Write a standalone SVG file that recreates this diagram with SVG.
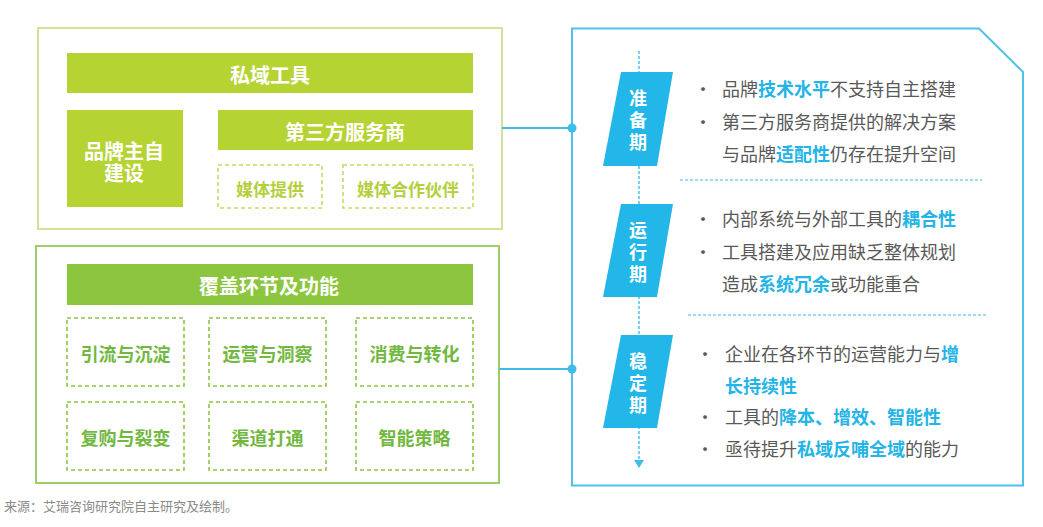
<svg xmlns="http://www.w3.org/2000/svg" width="1043" height="527" viewBox="0 0 1043 527">
<style>
.t{font-family:"Noto Sans CJK SC","Noto Sans",sans-serif;dominant-baseline:central}
.bar{fill:#b6d334}
.bar2{fill:#8cc63f}
.wt{fill:#fff;font-weight:bold;text-anchor:middle}
.dashY{fill:none;stroke:#c3da62;stroke-width:1.6;stroke-dasharray:4 3}
.dashG{fill:none;stroke:#8cc63f;stroke-width:1.6;stroke-dasharray:4 3}
.yt{fill:#b4cf3c;font-weight:bold;text-anchor:middle;font-size:17px}
.gt{fill:#72b840;font-weight:bold;text-anchor:middle;font-size:18px}
.para{fill:#22b7e8}
.pt{fill:#fff;font-weight:bold;text-anchor:middle;font-size:18px;writing-mode:vertical-rl;letter-spacing:4px}
.body{fill:#595959;font-size:18px}
.hl{fill:#25b4e6;font-weight:bold}
.bul{fill:#595959;font-size:18px;text-anchor:middle}
.sep{stroke:#7fd0ee;stroke-width:1.5;stroke-dasharray:3 2;fill:none}
.conn{stroke:#3fbde8;stroke-width:2;fill:none}
</style>
<rect width="1043" height="527" fill="#fff"/>

<g id="tools-panel">
  <rect x="38" y="28" width="464" height="201" fill="none" stroke="#d2e398" stroke-width="2"/>
  <g id="siyu-tools">
    <rect class="bar" x="67" y="53" width="406" height="40"/>
    <text class="t wt" x="270" y="74" font-size="20">私域工具</text>
  </g>
  <g id="brand-self">
    <rect class="bar" x="67" y="110" width="116" height="97"/>
    <text class="t wt" font-size="20"><tspan x="124" y="150">品牌主自</tspan><tspan x="124" y="172">建设</tspan></text>
  </g>
  <g id="third-party">
    <rect class="bar" x="218" y="110" width="255" height="40"/>
    <text class="t wt" x="345" y="131" font-size="20">第三方服务商</text>
  </g>
  <g id="media-provide">
    <rect class="dashY" x="218" y="165" width="104" height="43"/>
    <text class="t yt" x="270" y="188">媒体提供</text>
  </g>
  <g id="media-partner">
    <rect class="dashY" x="343" y="165" width="130" height="43"/>
    <text class="t yt" x="408" y="188">媒体合作伙伴</text>
  </g>
</g>

<g id="coverage-panel">
  <rect x="36" y="246" width="463" height="237" fill="none" stroke="#9fcf62" stroke-width="2"/>
  <g id="coverage-title">
    <rect class="bar2" x="67" y="264" width="406" height="41"/>
    <text class="t wt" x="269" y="285" font-size="20">覆盖环节及功能</text>
  </g>
  <g id="c1"><rect class="dashG" x="67" y="318" width="117" height="68"/><text class="t gt" x="125.5" y="353">引流与沉淀</text></g>
  <g id="c2"><rect class="dashG" x="209" y="318" width="117" height="68"/><text class="t gt" x="267.5" y="353">运营与洞察</text></g>
  <g id="c3"><rect class="dashG" x="356" y="318" width="117" height="68"/><text class="t gt" x="414.5" y="353">消费与转化</text></g>
  <g id="c4"><rect class="dashG" x="67" y="402" width="117" height="68"/><text class="t gt" x="125.5" y="437">复购与裂变</text></g>
  <g id="c5"><rect class="dashG" x="209" y="402" width="117" height="68"/><text class="t gt" x="267.5" y="437">渠道打通</text></g>
  <g id="c6"><rect class="dashG" x="356" y="402" width="117" height="68"/><text class="t gt" x="414.5" y="437">智能策略</text></g>
</g>

<g id="stages-panel">
  <path d="M572 28.5 H979 L1023 72 V485.5 H572 Z" fill="none" stroke="#4cc2ea" stroke-width="2"/>
  <line x1="639" y1="51" x2="639" y2="461" stroke="#4cc2ea" stroke-width="1.5" stroke-dasharray="3 2"/>
  <polygon points="634,460 644,460 639,468" fill="#3fbde8"/>
  <line class="sep" x1="680" y1="180" x2="982" y2="180"/>
  <line class="sep" x1="688" y1="315" x2="987" y2="315"/>

  <g id="stage-prepare">
    <polygon class="para" points="621,72 673,72 657,166 603,166"/>
    <text class="t pt" x="638" y="122">准备期</text>
    <text class="t bul" x="703" y="88">•</text>
    <text class="t body" x="722" y="88">品牌<tspan class="hl">技术水平</tspan>不支持自主搭建</text>
    <text class="t bul" x="703" y="121">•</text>
    <text class="t body" x="722" y="121">第三方服务商提供的解决方案</text>
    <text class="t body" x="722" y="153">与品牌<tspan class="hl">适配性</tspan>仍存在提升空间</text>
  </g>

  <g id="stage-run">
    <polygon class="para" points="621,204 673,204 657,297 603,297"/>
    <text class="t pt" x="638" y="254">运行期</text>
    <text class="t bul" x="703" y="218">•</text>
    <text class="t body" x="722" y="218">内部系统与外部工具的<tspan class="hl">耦合性</tspan></text>
    <text class="t bul" x="703" y="251">•</text>
    <text class="t body" x="722" y="251">工具搭建及应用缺乏整体规划</text>
    <text class="t body" x="722" y="283">造成<tspan class="hl">系统冗余</tspan>或功能重合</text>
  </g>

  <g id="stage-stable">
    <polygon class="para" points="621,335 673,335 657,428 603,428"/>
    <text class="t pt" x="638" y="385">稳定期</text>
    <text class="t bul" x="705" y="353">•</text>
    <text class="t body" x="725" y="353">企业在各环节的运营能力与<tspan class="hl">增</tspan></text>
    <text class="t body" x="725" y="385"><tspan class="hl">长持续性</tspan></text>
    <text class="t bul" x="705" y="416">•</text>
    <text class="t body" x="725" y="416">工具的<tspan class="hl">降本、增效、智能性</tspan></text>
    <text class="t bul" x="705" y="448">•</text>
    <text class="t body" x="725" y="448">亟待提升<tspan class="hl">私域反哺全域</tspan>的能力</text>
  </g>
</g>

<g id="connectors">
  <line class="conn" x1="502" y1="128" x2="572" y2="128"/>
  <circle cx="572" cy="128" r="4.5" fill="#3fbde8"/>
  <line class="conn" x1="499" y1="369" x2="572" y2="369"/>
  <circle cx="572" cy="369" r="4.5" fill="#3fbde8"/>
</g>

<text class="t" x="4" y="505" font-size="13" fill="#8a8a8a">来源：艾瑞咨询研究院自主研究及绘制。</text>
</svg>
